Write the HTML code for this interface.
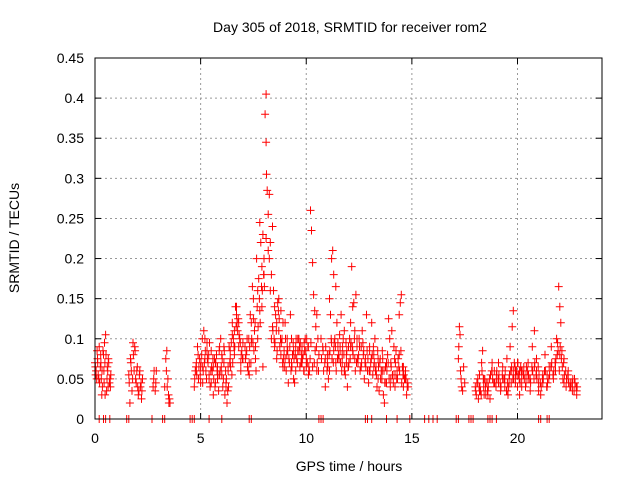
<!DOCTYPE html>
<html><head><meta charset="utf-8"><style>
body{margin:0;background:#fff}
svg{display:block;font-family:"Liberation Sans",sans-serif}
</style></head><body>
<svg id="c" width="640" height="480" xmlns="http://www.w3.org/2000/svg">
<rect width="640" height="480" fill="#fff"/>
<text x="350" y="32" font-size="14" text-anchor="middle">Day 305 of 2018, SRMTID for receiver rom2</text>
<text transform="translate(19,238) rotate(-90)" font-size="14" text-anchor="middle">SRMTID / TECUs</text>
<text x="349" y="471" font-size="14" text-anchor="middle">GPS time / hours</text>
<g id="grid"></g><g id="ticks"></g><g id="marks"></g>
<rect x="95" y="58" width="507" height="361" fill="none" stroke="#000" stroke-width="1"/>
</svg>
<script>
const xTicks=[0,5,10,15,20];
const yTicks=[0,0.05,0.1,0.15,0.2,0.25,0.3,0.35,0.4,0.45];
const yTickLabels=["0","0.05","0.1","0.15","0.2","0.25","0.3","0.35","0.4","0.45"];
const tA=[0.0,0.05,0.1,0.15,0.2,0.25,0.3,0.35,0.4,0.45,0.5,0.55,0.6,0.65,0.7,0.75,0.02,0.12,0.22,0.32,0.42,0.52,0.62,0.72,0.08,0.28,0.48,0.58,0.68,0.38];
const vA=[.07,.06,.085,.055,.09,.065,.05,.04,.08,.095,.105,.035,.06,.07,.05,.055,.065,.075,.045,.03,.06,.08,.04,.05,.05,.07,.03,.065,.045,.085];
const tB=[1.6,1.65,1.7,1.75,1.8,1.85,1.9,1.95,2.0,2.05,2.1,2.15,2.2,2.25,1.68,1.78,1.88,1.98,2.08,2.18,2.75,2.8,2.85,2.9,2.78,2.88,3.3,3.35,3.4,3.45,3.5,3.55,3.38,3.48];
const vB=[.055,.02,.07,.035,.095,.06,.085,.045,.065,.03,.055,.04,.025,.05,.075,.05,.09,.06,.035,.045,.04,.06,.035,.06,.05,.045,.04,.075,.085,.05,.02,.02,.06,.03];
const tE=[4.7,4.75,4.8,4.85,4.9,4.95,5.0,5.05,5.1,5.15,5.2,5.25,5.3,5.35,5.4,5.45,5.5,5.55,5.6,5.65,5.7,5.75,5.8,5.85,5.9,5.95,6.0,6.05,6.1,6.15,6.2,6.25,6.3,6.35,6.4,6.45,6.5,6.55,6.6,6.65,6.7,6.75,6.8,6.85,6.9,6.95,7.0,
4.8,5.0,5.2,5.4,5.6,5.8,6.0,6.2,6.4,6.6,6.8,7.0,5.1,5.3,5.5,5.7,5.9,6.1,6.3,6.5,6.7,6.9];
const vE=[.04,.06,.07,.09,.05,.075,.065,.08,.045,.11,.1,.06,.095,.07,.05,.04,.085,.06,.03,.075,.045,.08,.065,.035,.09,.1,.055,.04,.07,.03,.045,.02,.06,.09,.075,.095,.12,.1,.08,.14,.13,.11,.09,.1,.07,.085,.095,
.06,.045,.075,.055,.065,.05,.08,.04,.085,.11,.12,.075,.065,.085,.045,.07,.055,.09,.065,.105,.14,.06];
const tF=[7.1,7.15,7.2,7.25,7.3,7.35,7.4,7.45,7.5,7.55,7.6,7.65,7.7,7.75,7.8,7.85,7.9,7.95,8.0,8.05,8.1,8.1,8.12,8.15,8.2,8.25,8.3,8.35,8.4,8.45,8.5,8.55,8.6,8.65,8.7,8.75,8.8,8.85,8.9,8.95,9.0,9.05,9.1,9.15,9.2,
7.3,7.5,7.7,7.9,8.1,8.3,8.5,8.7,8.9,9.1,7.4,7.6,7.8,8.0,8.2,8.4,8.6,8.8,9.0,8.25,8.35,7.95];
const vF=[.09,.08,.1,.06,.055,.13,.12,.165,.15,.11,.09,.2,.16,.175,.245,.22,.19,.23,.2,.38,.405,.345,.305,.285,.255,.28,.22,.18,.24,.16,.14,.13,.12,.145,.11,.09,.135,.1,.12,.085,.075,.06,.09,.045,.07,
.07,.125,.1,.14,.225,.16,.09,.15,.065,.1,.095,.075,.135,.18,.21,.115,.075,.08,.12,.2,.1,.065];
const tG=[9.25,9.3,9.35,9.4,9.45,9.5,9.55,9.6,9.65,9.7,9.75,9.8,9.85,9.9,9.95,10.0,10.05,10.1,10.15,10.2,10.25,10.3,10.35,10.4,10.45,10.5,10.55,10.6,
9.3,9.5,9.7,9.9,10.1,10.3,10.5,9.4,9.6,9.8,10.0];
const vG=[.13,.1,.08,.05,.045,.09,.075,.085,.1,.065,.07,.09,.08,.06,.1,.075,.07,.055,.06,.26,.235,.195,.155,.135,.115,.13,.1,.08,
.07,.06,.085,.095,.09,.065,.06,.085,.1,.07,.065];
const tH=[10.7,10.8,10.9,11.0,11.05,11.1,11.15,11.2,11.25,11.3,11.35,11.4,11.45,11.5,11.55,11.6,11.65,11.7,11.75,11.8,11.85,11.9,11.95,12.0,12.05,12.1,12.15,12.2,12.25,12.3,12.35,12.4,12.45,12.5,12.55,12.6,12.65,12.7,12.75,12.8,12.85,12.9,12.95,13.0,13.05,13.1,13.15,13.2,13.25,13.3,13.35,13.4,13.45,13.5,13.55,13.6,13.65,13.7,13.75,13.8,13.85,13.9,13.95,14.0,14.05,14.1,14.15,14.2,14.25,14.3,14.35,14.4,14.45,14.5,14.55,14.6,14.65,14.7,14.75,14.8,
11.0,11.2,11.4,11.6,11.8,12.0,12.2,12.4,12.6,12.8,13.0,13.2,13.4,13.6,13.8,14.0,14.2,14.4,14.6,10.9,11.1,11.3,11.5,11.7,11.9,12.1,12.3];
const vH=[.1,.085,.04,.07,.05,.15,.13,.2,.21,.18,.1,.165,.12,.09,.075,.085,.13,.07,.1,.06,.055,.08,.04,.09,.1,.12,.19,.14,.145,.11,.155,.09,.07,.1,.06,.065,.11,.08,.05,.075,.13,.06,.045,.09,.07,.12,.055,.08,.1,.065,.04,.05,.035,.075,.06,.085,.03,.02,.065,.045,.08,.125,.1,.07,.11,.055,.09,.04,.085,.06,.075,.13,.145,.155,.065,.04,.05,.06,.03,.045,
.08,.095,.07,.09,.11,.065,.085,.1,.09,.07,.085,.065,.075,.06,.07,.05,.055,.08,.065,.075,.06,.085,.095,.08,.07,.09,.075];
const tJ=[17.2,17.22,17.25,17.28,17.3,17.33,17.36,17.4,17.45,17.5,
18.0,18.05,18.1,18.15,18.2,18.25,18.3,18.35,18.4,18.45,18.5,18.6,18.7,18.8,18.9,19.0,19.1,19.2,19.3,19.4,19.5,19.55,19.6,19.65,19.7,19.75,19.8,19.85,19.9,19.95,20.0,20.05,20.1,20.15,20.2,20.3,20.4,20.5,20.6,20.7,20.8,20.9,21.0,21.1,21.2,21.3,21.4,21.5,21.6,21.7,21.8,21.85,21.9,21.95,22.0,22.05,22.1,22.15,22.2,22.3,22.4,22.5,22.6,22.7,22.8,
18.2,18.4,18.6,18.8,19.0,19.2,19.4,19.6,19.8,20.0,20.2,20.4,20.6,20.8,21.0,21.2,21.4,21.6,21.8,22.0,22.2,22.4,22.6,22.8,19.1,19.3,19.5,19.7,19.9,20.1,20.3,20.5,20.7,20.9];
const vJ=[.075,.09,.115,.105,.06,.05,.04,.035,.065,.045,
.04,.03,.045,.025,.055,.035,.07,.085,.04,.05,.03,.045,.025,.07,.06,.05,.045,.035,.065,.04,.075,.03,.05,.09,.06,.115,.135,.07,.045,.06,.04,.055,.03,.065,.05,.06,.045,.07,.035,.09,.11,.06,.045,.03,.055,.08,.04,.065,.09,.05,.07,.1,.095,.165,.14,.12,.085,.05,.075,.04,.06,.045,.035,.05,.03,
.035,.05,.03,.06,.055,.04,.05,.045,.06,.07,.04,.055,.05,.065,.035,.045,.055,.065,.06,.08,.045,.05,.04,.035,.07,.05,.035,.045,.055,.06,.065,.05,.06,.075];
// additional densely-read points
const tK=[0.03,0.13,0.18,0.27,0.33,0.43,0.47,0.57,0.63,0.73,1.62,1.72,1.82,1.92,2.02,2.12,2.22,3.42,3.52,
4.72,4.82,4.92,5.02,5.12,5.22,5.32,5.42,5.52,5.62,5.72,5.82,5.92,6.02,6.12,6.22,6.32,6.42,6.52,6.62,6.72,6.82,6.92,
4.78,4.88,4.98,5.08,5.18,5.28,5.38,5.48,5.58,5.68,5.78,5.88,5.98,6.08,6.18,6.28,6.38,6.48,6.58,6.68,6.78,6.88,6.98];
const vK=[.055,.07,.05,.08,.06,.045,.07,.05,.075,.04,.045,.06,.08,.05,.04,.06,.035,.04,.025,
.05,.055,.065,.07,.06,.085,.075,.095,.065,.05,.07,.055,.06,.075,.085,.05,.04,.065,.07,.09,.12,.105,.08,
.065,.08,.055,.1,.07,.05,.08,.06,.075,.04,.06,.085,.065,.05,.06,.035,.07,.055,.09,.115,.125,.095,.075];
const tL=[7.12,7.22,7.32,7.42,7.52,7.62,7.72,7.82,7.92,8.02,8.42,8.52,8.62,8.72,8.82,8.92,9.02,9.12,9.22,9.32,9.42,9.52,9.62,9.72,9.82,9.92,10.02,10.12,10.22,10.42,10.52,
7.18,7.28,7.38,7.48,7.58,7.68,7.78,7.88,7.98,8.48,8.58,8.68,8.78,8.88,8.98,9.08,9.18,9.28,9.38,9.48,9.58,9.68,9.78,9.88,9.98,10.08,10.18,10.38,10.48,10.58];
const vL=[.075,.065,.09,.1,.085,.06,.115,.12,.16,.165,.11,.095,.085,.125,.095,.075,.1,.085,.09,.065,.075,.1,.085,.095,.075,.085,.1,.065,.095,.085,.07,
.085,.1,.07,.095,.12,.14,.15,.165,.18,.1,.11,.135,.1,.07,.065,.08,.075,.06,.095,.08,.07,.09,.08,.06,.085,.09,.075,.07,.09,.06];
const tM=[10.72,10.82,10.92,11.02,11.12,11.22,11.32,11.42,11.52,11.62,11.72,11.82,11.92,12.02,12.12,12.22,12.32,12.42,12.52,12.62,12.72,12.82,12.92,13.02,13.12,13.22,13.32,13.42,13.52,13.62,13.72,13.82,13.92,14.02,14.12,14.22,14.32,14.42,14.52,14.62,14.72,14.82,
10.78,10.88,10.98,11.08,11.18,11.28,11.38,11.48,11.58,11.68,11.78,11.88,11.98,12.08,12.18,12.28,12.38,12.48,12.58,12.68,12.78,12.88,12.98,13.08,13.18,13.28,13.38,13.48,13.58,13.68,13.78,13.88,13.98,14.08,14.18,14.28,14.38,14.48,14.58,14.68,14.78];
const vM=[.075,.06,.09,.065,.085,.075,.095,.06,.08,.07,.09,.065,.085,.07,.095,.08,.06,.075,.09,.07,.085,.065,.075,.06,.08,.07,.055,.065,.05,.075,.045,.06,.05,.065,.045,.07,.05,.06,.045,.055,.05,.04,
.09,.07,.06,.08,.1,.07,.09,.075,.105,.06,.08,.095,.065,.075,.09,.1,.07,.08,.065,.095,.07,.085,.06,.075,.09,.06,.085,.07,.05,.06,.045,.07,.04,.055,.075,.05,.065,.085,.055,.05,.04];
const tN=[18.02,18.12,18.22,18.32,18.42,18.52,18.62,18.72,18.82,18.92,19.02,19.12,19.22,19.32,19.42,19.52,19.62,19.72,19.82,19.92,20.02,20.12,20.22,20.32,20.42,20.52,20.62,20.72,20.82,20.92,21.02,21.12,21.22,21.32,21.42,21.52,21.62,21.72,21.82,21.92,22.02,22.12,22.22,22.32,22.42,22.52,22.62,22.72,22.82,
18.08,18.18,18.28,18.38,18.48,18.58,18.68,18.78,18.88,18.98,19.08,19.18,19.28,19.38,19.48,19.58,19.68,19.78,19.88,19.98,20.08,20.18,20.28,20.38,20.48,20.58,20.68,20.78,20.88,20.98,21.08,21.18,21.28,21.38,21.48,21.58,21.68,21.78,21.88,21.98,22.08,22.18,22.28,22.38,22.48,22.58,22.68,22.78];
const vN=[.035,.05,.04,.06,.03,.045,.04,.055,.05,.045,.06,.055,.04,.05,.06,.045,.055,.065,.05,.06,.07,.045,.06,.05,.065,.055,.045,.06,.07,.05,.055,.04,.05,.06,.045,.055,.07,.06,.075,.085,.09,.065,.055,.05,.045,.04,.05,.045,.04,
.045,.04,.03,.05,.04,.035,.05,.06,.045,.04,.05,.045,.055,.05,.035,.04,.06,.05,.065,.055,.05,.06,.055,.04,.06,.05,.065,.05,.055,.065,.045,.05,.06,.04,.05,.065,.055,.07,.08,.06,.075,.07,.06,.055,.04,.045,.035,.04];

const tZero=[0.2,0.4,0.5,0.7,1.5,1.6,2.7,3.2,3.3,4.5,4.6,4.7,5.4,6.0,7.3,7.4,10.6,10.7,10.8,12.8,12.9,13.1,13.8,14.3,14.9,15.6,15.8,16.0,16.2,17.1,17.2,17.7,17.8,17.9,18.6,18.7,18.8,19.0,21.0,21.1,21.4,21.5];

const X0=95,X1=602,Y0=419,Y1=58;
const xs=t=>X0+t/24*(X1-X0);
const ys=v=>Y0-v/0.45*(Y0-Y1);
const NS="http://www.w3.org/2000/svg";
function mk(tag,attrs,parent){const e=document.createElementNS(NS,tag);for(const k in attrs)e.setAttribute(k,attrs[k]);parent.appendChild(e);return e;}
const grid=document.getElementById('grid'),ticks=document.getElementById('ticks'),marks=document.getElementById('marks');
xTicks.forEach(t=>{const x=xs(t);
 if(t>0){const g=mk('line',{x1:x,x2:x,y1:Y1,y2:Y0,stroke:'#999','stroke-dasharray':'2,3'},grid);}
 mk('line',{x1:x,x2:x,y1:Y0,y2:Y0-6,stroke:'#000'},ticks);mk('line',{x1:x,x2:x,y1:Y1,y2:Y1+6,stroke:'#000'},ticks);
 const l=mk('text',{x:x,y:443,'font-size':14,'text-anchor':'middle'},ticks);l.textContent=t;
 
 });
yTicks.forEach((v,i)=>{const y=ys(v);
 if(v>0&&v<0.45){const g=mk('line',{x1:X0,x2:X1,y1:y,y2:y,stroke:'#999','stroke-dasharray':'2,3'},grid);}
 mk('line',{x1:X0,x2:X0+6,y1:y,y2:y,stroke:'#000'},ticks);mk('line',{x1:X1,x2:X1-6,y1:y,y2:y,stroke:'#000'},ticks);
 const l=mk('text',{x:84,y:y+5,'font-size':14,'text-anchor':'end'},ticks);l.textContent=yTickLabels[i];
 
 });
let d='';
function add(ts,vs){const n=Math.min(ts.length,vs.length);for(let i=0;i<n;i++){const x=xs(ts[i]),y=ys(vs[i]);d+=`M${(x-4).toFixed(1)} ${y.toFixed(1)}h8M${x.toFixed(1)} ${(y-4).toFixed(1)}v8`;}}
add(tA,vA);add(tB,vB);add(tE,vE);add(tF,vF);add(tG,vG);add(tH,vH);add(tJ,vJ);
add(tK,vK);add(tL,vL);add(tM,vM);add(tN,vN);
add(tZero,tZero.map(()=>0));
const p=mk('path',{d:d,stroke:'#f00','stroke-width':1,fill:'none'},marks);


</script>
</body></html>
